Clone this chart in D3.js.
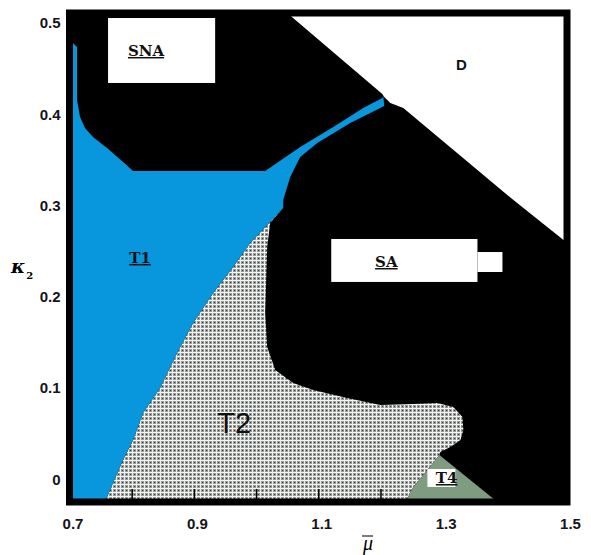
<!DOCTYPE html>
<html>
<head>
<meta charset="utf-8">
<script src="https://cdn.jsdelivr.net/npm/d3@7"></script>
<style>
body { margin: 0; background: #fff; }
</style>
</head>
<body>
<div id="RegionChart"></div>
<script>
// region boundaries, points are [mu, kappa2]
var t1Outline = [[0.7, -0.025], [0.7, 0.4759], [0.7050, 0.4785], [0.7121, 0.4737], [0.7121, 0.4157],
    [0.7169, 0.3970], [0.7249, 0.3850], [0.7378, 0.3751], [0.7604, 0.3630], [0.7861, 0.3477],
    [0.8022, 0.3378], [1.0147, 0.3378], [1.0710, 0.3641], [1.1241, 0.3861], [1.1724, 0.4069],
    [1.2030, 0.4178], [1.2046, 0.4200], [1.2062, 0.4091], [1.1515, 0.3904], [1.0984, 0.3685],
    [1.0710, 0.3532], [1.0549, 0.3312], [1.0437, 0.3060]];
var t1t2Edge = [[1.0437, 0.2973], [0.9905, 0.2589], [0.9632, 0.2326], [0.9310, 0.2041], [0.8988, 0.1712],
    [0.8730, 0.1383], [0.8457, 0.1000], [0.8183, 0.0726], [0.8022, 0.0430], [0.7861, 0.0210],
    [0.7700, -0.0042], [0.7571, -0.025]];
var t4LeftEdge = [[1.2400, -0.025], [1.2529, -0.0085], [1.2755, 0.0101], [1.2948, 0.0265]];
var t4RightFoot = [[1.3881, -0.025]];
var t2SaEdge = [[1.2964, 0.0298], [1.3125, 0.0353], [1.3286, 0.0430], [1.3334, 0.0539], [1.3318, 0.0682],
    [1.3173, 0.0791], [1.2916, 0.0835], [1.2529, 0.0824], [1.1998, 0.0813], [1.1467, 0.0890],
    [1.0919, 0.0978], [1.0598, 0.1054], [1.0308, 0.1197], [1.0179, 0.1449], [1.0147, 0.1822],
    [1.0179, 0.2545], [1.0227, 0.2808], [1.0437, 0.2973]];
var dRegion = [[1.0501, 0.511], [1.2030, 0.4222], [1.2062, 0.4189], [1.2159, 0.4124], [1.2368, 0.4069],
    [1.4139, 0.3060], [1.4944, 0.2622], [1.5, 0.2622], [1.5, 0.511]];

// white label boxes, [[mu0, k0], [mu1, k1]]
var labelBoxes = [
    [[0.7620, 0.4343], [0.9342, 0.5055]],   // SNA
    [[1.1209, 0.2162], [1.3560, 0.2633]],   // SA
    [[1.3560, 0.2271], [1.3962, 0.2490]],   // SA notch
    [[1.2755, -0.0085], [1.3205, 0.0112]]   // T4
];

var regionNames = ["SNA", "T1", "SA", "T4"];
var regionLabelPos = [[0.8231, 0.4639], [0.8135, 0.2370], [1.2095, 0.2326], [1.3064, -0.0042]];
var plainNames = ["D", "T2"];
var plainLabelPos = [[1.3302, 0.4485], [0.9648, 0.0507]];

var xTicks = [0.7, 0.9, 1.1, 1.3, 1.5];
var xInnerTicks = [0.8, 0.9, 1.0, 1.1, 1.2];
var yTicks = [0, 0.1, 0.2, 0.3, 0.4, 0.5];

var width = 591,
    height = 555,
    frameWidth = 7,
    blue = "#0896dc",
    green = "#7f9b80";

var x = d3.scaleLinear()
    .domain([0.7, 1.5])
    .range([69.5, 567]);
var y = d3.scaleLinear()
    .domain([-0.025, 0.511])
    .range([502, 13]);

var svg = d3.select("#RegionChart").append('svg')
    .attr('width', width)
    .attr('height', height);

// grainy grey texture of T2
var pat = svg.append('defs').append('pattern')
    .attr('id', 'grain')
    .attr('width', 4)
    .attr('height', 4)
    .attr('patternUnits', 'userSpaceOnUse');
pat.append('rect').attr('width', 4).attr('height', 4).attr('fill', '#979b97');
pat.append('rect').attr('width', 4).attr('height', 1).attr('fill', '#f8f8f8');
pat.append('rect').attr('width', 1).attr('height', 4).attr('fill', '#eeeeee');
pat.append('rect').attr('x', 2).attr('y', 2).attr('width', 1).attr('height', 1).attr('fill', '#3a3d3a');

var line = d3.line()
    .x(function(d){return x(d[0]);})
    .y(function(d){return y(d[1]);});

// black background = SNA / SA chaotic areas
svg.append('rect')
    .attr('x', x(0.7))
    .attr('y', y(0.511))
    .attr('width', x(1.5) - x(0.7))
    .attr('height', y(-0.025) - y(0.511))
    .attr('fill', "black");

var regions = svg.append('g').attr('id', 'regions');
regions.append('path')
    .attr('d', line(dRegion) + "Z")
    .attr('fill', "white");
regions.append('path')
    .attr('d', line(t1t2Edge.concat(t4LeftEdge, t2SaEdge)) + "Z")
    .attr('fill', "url(#grain)");
regions.append('path')
    .attr('d', line(t4LeftEdge.concat(t4RightFoot)) + "Z")
    .attr('fill', green);
regions.append('path')
    .attr('d', line(t1Outline.concat(t1t2Edge)) + "Z")
    .attr('fill', blue);

// label boxes
svg.append('g').selectAll('rect')
    .data(labelBoxes)
    .enter().append('rect')
        .attr('x', function(d){return x(d[0][0]);})
        .attr('y', function(d){return y(d[1][1]);})
        .attr('width', function(d){return x(d[1][0]) - x(d[0][0]);})
        .attr('height', function(d){return y(d[0][1]) - y(d[1][1]);})
        .attr('fill', "white");

// frame
svg.append('rect')
    .attr('x', x(0.7))
    .attr('y', y(0.511))
    .attr('width', x(1.5) - x(0.7))
    .attr('height', y(-0.025) - y(0.511))
    .attr('fill', "none")
    .attr('stroke', "black")
    .attr('stroke-width', frameWidth);

// small inner ticks along the bottom
svg.append('g')
    .attr('transform', "translate(0," + y(-0.025) + ")")
    .call(d3.axisBottom(x).tickValues(xInnerTicks).tickSize(-13).tickFormat(""))
    .call(function(g){ g.select('.domain').remove(); })
    .selectAll('line')
        .attr('stroke', "black")
        .attr('stroke-width', 1.5);

// tick labels
var xAxis = svg.append('g')
    .attr('transform', "translate(3," + y(-0.025) + ")")
    .call(d3.axisBottom(x).tickValues(xTicks).tickSize(0).tickPadding(16).tickFormat(d3.format(".1f")));
var yAxis = svg.append('g')
    .attr('transform', "translate(" + x(0.7) + ",0)")
    .call(d3.axisLeft(y).tickValues(yTicks).tickSize(0).tickPadding(9)
        .tickFormat(function(d){return d === 0 ? "0" : d3.format(".1f")(d);}));
[xAxis, yAxis].forEach(function(g) {
    g.select('.domain').remove();
    g.selectAll('text')
        .attr('font-family', "Liberation Sans")
        .attr('font-weight', "bold")
        .attr('font-size', 15)
        .attr('fill', "#141420");
});

// region labels
svg.append('g').selectAll('text')
    .data(regionNames)
    .enter().append('text')
        .attr('x', function(d, i){return x(regionLabelPos[i][0]);})
        .attr('y', function(d, i){return y(regionLabelPos[i][1]);})
        .attr('text-anchor', "middle")
        .attr('font-family', "DejaVu Serif")
        .attr('font-weight', "bold")
        .attr('font-size', 15)
        .style('text-decoration', "underline")
        .attr('fill', "#111")
        .text(function(d){return d;});
svg.append('g').selectAll('text')
    .data(plainNames)
    .enter().append('text')
        .attr('x', function(d, i){return x(plainLabelPos[i][0]);})
        .attr('y', function(d, i){return y(plainLabelPos[i][1]);})
        .attr('text-anchor', "middle")
        .attr('font-family', "Liberation Sans")
        .attr('font-weight', function(d){return d === "D" ? "bold" : "normal";})
        .attr('font-size', function(d){return d === "D" ? 15 : 29;})
        .attr('fill', "#111")
        .text(function(d){return d;});

// axis titles
var xTitle = svg.append('text')
    .attr('x', x(1.18))
    .attr('y', 550)
    .attr('text-anchor', "middle")
    .attr('font-family', "Liberation Serif")
    .attr('font-style', "italic")
    .attr('font-size', 20)
    .text("μ");
svg.append('line')
    .attr('x1', x(1.18) - 6)
    .attr('x2', x(1.18) + 5)
    .attr('y1', 536)
    .attr('y2', 536)
    .attr('stroke', "#222")
    .attr('stroke-width', 1.2);
var yTitle = svg.append('text')
    .attr('x', 11)
    .attr('y', 273)
    .attr('font-family', "DejaVu Serif")
    .attr('font-style', "italic")
    .attr('font-weight', "bold")
    .attr('font-size', 19)
    .text("κ");
yTitle.append('tspan')
    .attr('dy', 6)
    .attr('dx', 1)
    .attr('font-size', 10)
    .attr('font-style', "normal")
    .text("2");
</script>
</body>
</html>
